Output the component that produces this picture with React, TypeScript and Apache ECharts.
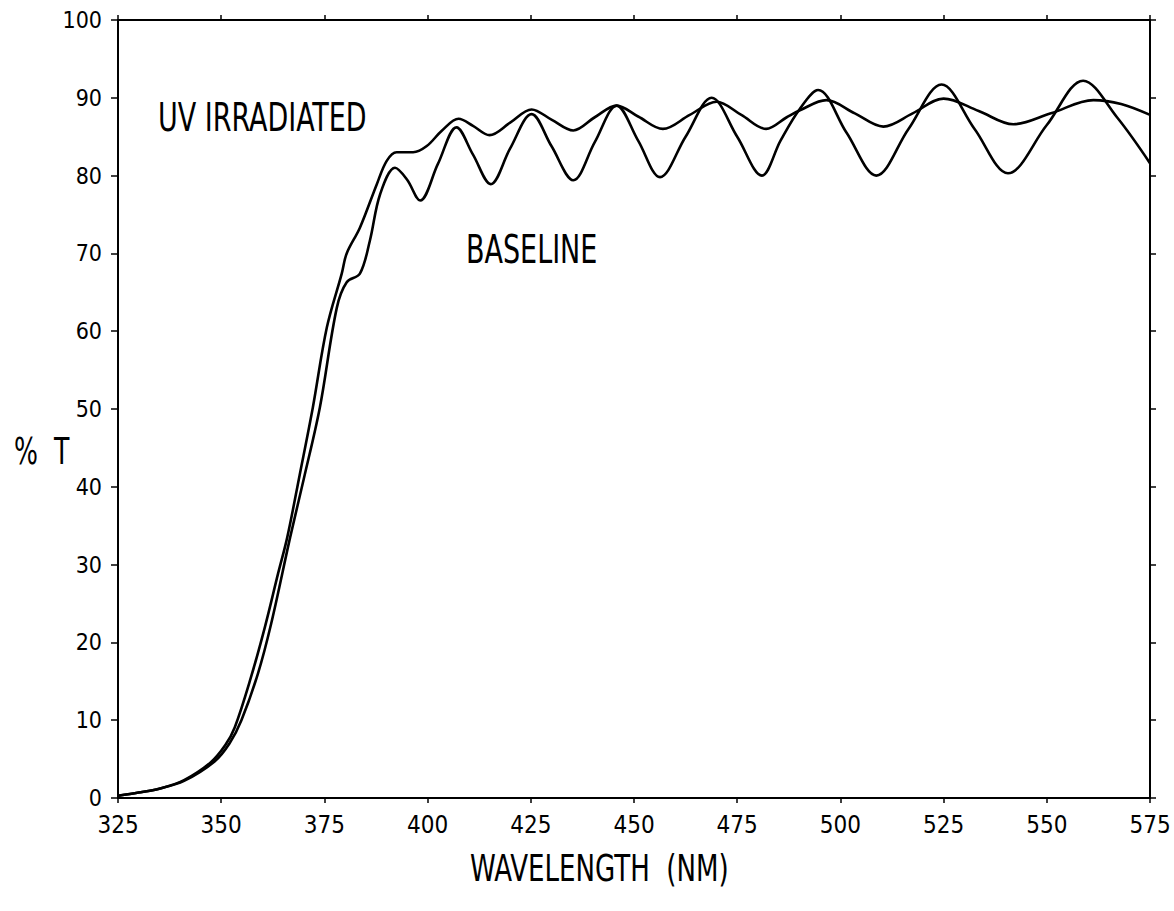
import React, { useEffect, useRef } from "react";
import * as echarts from "echarts";

// Wavelength (nm) and %T
const uvWavelength = [
  325, 330, 335, 341, 347.5, 351, 353.3, 357.2, 360.6, 363.8, 366, 369, 372.2, 375.6, 379.2, 380.4,
  383.6, 387.7, 390.1, 392.5, 396.5, 399.8, 403.5, 407.5, 411, 415, 420, 425.2, 430, 435.3,
  440.5, 445.8, 451, 457, 463.5, 470, 476, 482, 487, 490.2, 496.6, 503.5, 510.4, 517.5, 525,
  533.5, 541.9, 551, 561.3, 568, 575,
];
const uvT = [
  0.3, 0.7, 1.2, 2.3, 4.6, 6.8, 9.1, 15.5, 22, 28.9, 33.5, 41.5, 50.2, 60.5, 67.4, 70.0,
  73.3, 78.9, 81.9, 83.0, 83.0, 83.8, 85.8, 87.3, 86.4, 85.2, 86.8, 88.5, 87.2, 85.8,
  87.5, 89.0, 87.6, 86.0, 87.8, 89.5, 87.8, 86.0, 87.5, 88.4, 89.7, 88.0, 86.3, 88.0, 89.9,
  88.3, 86.6, 88.0, 89.7, 89.2, 87.8,
];

const baseWavelength = [
  325, 330, 335, 341, 348.4, 352, 354.9, 358.9, 362.1, 366.7, 370, 373.9, 378, 380.4, 383.6, 386,
  388.5, 392.1, 395, 398.2, 402.5, 407, 411, 415.3, 420, 425.2, 430, 435.3, 440.5, 445.8,
  451, 456.3, 462.5, 468.8, 475, 481, 485.5, 490.2, 494.6, 501.5, 508.7, 516.5, 524.5, 532.5,
  540.6, 550, 558.8, 567, 575,
];
const baseT = [
  0.3, 0.7, 1.2, 2.2, 4.7, 7.0, 10, 16, 22.4, 33.5, 41, 50.2, 63, 66.3, 67.4, 71.6,
  77.6, 81, 79.5, 76.8, 81.5, 86.2, 82.7, 78.9, 83.5, 87.9, 83.8, 79.4, 84.3, 89.0,
  84.5, 79.8, 85.0, 90.0, 85.0, 80.0, 84.5, 88.6, 91.0, 85.5, 80.0, 86.0, 91.7, 86.0,
  80.3, 86.5, 92.2, 87.5, 81.6,
];

const xMin = 325;
const xMax = 575;
const xStep = 25;
const yMin = 0;
const yMax = 100;
const yStep = 10;

const labelUV = "UV IRRADIATED";
const labelBase = "BASELINE";
const xTitle = "WAVELENGTH  (NM)";
const yTitle = "%  T";

const FONT = "'Liberation Sans Narrow', 'DejaVu Sans Condensed', 'Arial Narrow', sans-serif";

export default function App() {
  const ref = useRef<HTMLDivElement>(null);

  useEffect(() => {
    if (!ref.current) return;
    const chart = echarts.init(ref.current, null, { renderer: "svg" });

    const axisLine = { show: true, onZero: false, lineStyle: { color: "#000", width: 2 } };
    const tickStyle = { color: "#000", width: 1.5 };

    const option: any = {
      animation: false,
      backgroundColor: "#fff",
      grid: { left: 118, right: 24, top: 20, bottom: 113, containLabel: false },
      xAxis: [
        {
          type: "value",
          position: "bottom",
          min: xMin,
          max: xMax,
          interval: xStep,
          axisLine,
          axisTick: { show: true, length: 5, lineStyle: tickStyle },
          axisLabel: { color: "#000", fontSize: 24, fontFamily: FONT, margin: 15 },
          splitLine: { show: false },
        },
        {
          type: "value",
          position: "top",
          min: xMin,
          max: xMax,
          interval: xStep,
          axisLine,
          axisTick: { show: true, length: 5, lineStyle: tickStyle },
          axisLabel: { show: false },
          splitLine: { show: false },
        },
      ],
      yAxis: [
        {
          type: "value",
          position: "left",
          min: yMin,
          max: yMax,
          interval: yStep,
          axisLine,
          axisTick: { show: true, length: 7, lineStyle: tickStyle },
          axisLabel: { color: "#000", fontSize: 23, fontFamily: FONT, margin: 16 },
          splitLine: { show: false },
        },
        {
          type: "value",
          position: "right",
          min: yMin,
          max: yMax,
          interval: yStep,
          axisLine,
          axisTick: { show: true, length: 6, lineStyle: tickStyle },
          axisLabel: { show: false },
          splitLine: { show: false },
        },
      ],
      series: [
        {
          name: labelUV,
          type: "line",
          xAxisIndex: 0,
          yAxisIndex: 0,
          data: uvWavelength.map((w, i) => [w, uvT[i]]),
          smooth: 0.35,
          showSymbol: false,
          symbol: "none",
          lineStyle: { color: "#000", width: 2.6 },
        },
        {
          name: labelBase,
          type: "line",
          xAxisIndex: 0,
          yAxisIndex: 0,
          data: baseWavelength.map((w, i) => [w, baseT[i]]),
          smooth: 0.35,
          showSymbol: false,
          symbol: "none",
          lineStyle: { color: "#000", width: 2.6 },
        },
      ],
      graphic: [
        {
          type: "text",
          x: 158,
          y: 118,
          scaleY: 1.3,
          style: { text: labelUV, fill: "#000", font: `30px ${FONT}`, textVerticalAlign: "middle" },
        },
        {
          type: "text",
          x: 466,
          y: 250,
          scaleY: 1.3,
          style: { text: labelBase, fill: "#000", font: `30px ${FONT}`, textVerticalAlign: "middle" },
        },
        {
          type: "text",
          x: 470,
          y: 868,
          scaleY: 1.3,
          style: { text: xTitle, fill: "#000", font: `29px ${FONT}`, textVerticalAlign: "middle" },
        },
        {
          type: "text",
          x: 14,
          y: 452,
          scaleY: 1.3,
          style: { text: yTitle, fill: "#000", font: `28px ${FONT}`, textVerticalAlign: "middle" },
        },
      ],
    };

    chart.setOption(option);
    return () => chart.dispose();
  }, []);

  return (
    <div
      ref={ref}
      style={{ position: "fixed", left: 0, top: 0, width: 1174, height: 911, background: "#fff" }}
    />
  );
}
